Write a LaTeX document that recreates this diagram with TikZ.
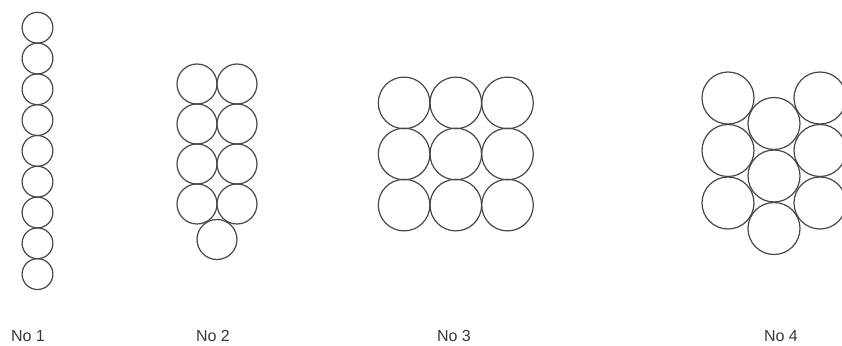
\documentclass[tikz,border=0pt]{standalone}
\usepackage{fontspec}
\setmainfont{Liberation Sans}
\usepackage{xcolor}

\begin{document}
\begin{tikzpicture}[x=1pt, y=-1pt,
  ball/.style={circle, draw=black!72, line width=1.2pt, inner sep=0pt},
  caption/.style={anchor=base, text=black!78, font=\fontsize{16}{19}\selectfont}]
  \useasboundingbox (0,0) rectangle (842,345);
  \clip (0,0) rectangle (842,345);

  % No 1 (single column)
  \foreach \i in {0,...,8}
    \node[ball, minimum size=30.8pt] (a\i) at (37.5, {27.7+30.8*\i}) {};

  % No 2 (two columns and one below)
  \foreach \i in {0,...,3} {
    \node[ball, minimum size=40pt] (bl\i) at (197, {84+40*\i}) {};
    \node[ball, minimum size=40pt] (br\i) at (237, {84+40*\i}) {};
  }
  \node[ball, minimum size=40pt] (bb) at (217, 239.5) {};

  % No 3 (square packing)
  \foreach \i in {0,1,2}
    \foreach \j in {0,1,2}
      \node[ball, minimum size=51.6pt] (c\i\j) at ({404.1+51.7*\i}, {102.9+51.1*\j}) {};

  % No 4 (hexagonal packing)
  \foreach \j in {0,1,2} {
    \node[ball, minimum size=52pt] (dl\j) at (728, {98+52.5*\j}) {};
    \node[ball, minimum size=52pt] (dm\j) at (774, {123.5+52.5*\j}) {};
    \node[ball, minimum size=52pt] (dr\j) at (820, {98+52.5*\j}) {};
  }

  % Labels
  \node[caption] (n1) at (28, 341) {No 1};
  \node[caption] (n2) at (213, 341) {No 2};
  \node[caption] (n3) at (454, 341) {No 3};
  \node[caption] (n4) at (781, 341) {No 4};
\end{tikzpicture}
\end{document}
